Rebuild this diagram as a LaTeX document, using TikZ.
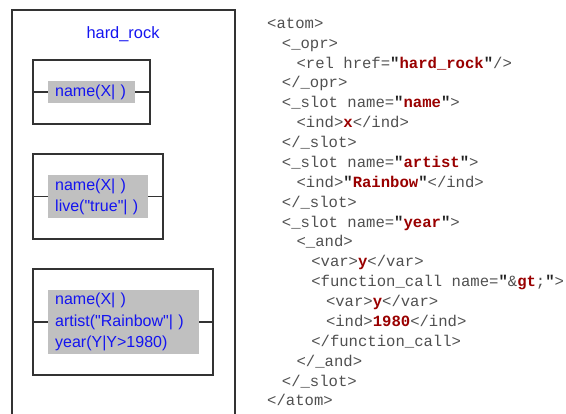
\documentclass[tikz,border=0pt]{standalone}
\usepackage{fontspec}
\setmainfont{Liberation Sans}
\newfontfamily\lblfont{Liberation Sans}
\newfontfamily\codefont{Liberation Mono}
\definecolor{boxc}{HTML}{333333}
\definecolor{grayf}{HTML}{C0C0C0}
\definecolor{lblue}{HTML}{1414F0}
\definecolor{codegray}{HTML}{505050}
\definecolor{qblack}{HTML}{222222}
\definecolor{vred}{HTML}{990000}
\newcommand\bq{\textbf{\color{qblack}"}}
\newcommand\rv[1]{\textbf{\color{vred}#1}}
\begin{document}
\begin{tikzpicture}[x=1pt,y=-1pt,
  frameline/.style={draw=boxc, line width=1.3pt},
  inbox/.style={draw=boxc, line width=1.3pt, inner sep=0pt},
  conn/.style={draw=boxc, line width=1.3pt},
  glabel/.style={fill=grayf, text=lblue, font=\lblfont\fontsize{16}{21.5}\selectfont, anchor=west, align=left, inner xsep=7pt, inner ysep=0pt},
  title/.style={text=lblue, font=\lblfont\fontsize{16.4}{19}\selectfont, anchor=base, inner sep=0pt},
  code/.style={anchor=base west, inner sep=0pt, font=\codefont\fontsize{15.6}{18}\selectfont, text=codegray}]
\useasboundingbox (0,0) rectangle (566,414);
% outer frame (open at bottom)
\coordinate (fbl) at (12,416);
\coordinate (ftl) at (12,10);
\coordinate (ftr) at (235,10);
\coordinate (fbr) at (235,416);
\draw[frameline] (fbl) -- (ftl) -- (ftr) -- (fbr);
\node[title] (hr) at (123,39) {hard\_rock};
% box 1
\node[inbox, minimum width=117pt, minimum height=64pt] (b1) at (91.5,92) {};
\node[glabel, text width=73pt] (g1) at (48,92) {\strut name(X| )};
\draw[conn] (b1.west) -- (g1.west);
\draw[conn] (g1.east) -- (b1.east);
% box 2
\node[inbox, minimum width=130pt, minimum height=85pt] (b2) at (98,196.5) {};
\node[glabel, text width=86pt] (g2) at (48,196.5) {\strut name(X| )\\\strut live("true"| )};
\draw[conn] (b2.west) -- (g2.west);
\draw[conn] (g2.east) -- (b2.east);
% box 3
\node[inbox, minimum width=180pt, minimum height=106pt] (b3) at (123,322) {};
\node[glabel, text width=137pt] (g3) at (48,322) {\strut name(X| )\\\strut artist("Rainbow"| )\\\strut year(Y|Y>1980)};
\draw[conn] (b3.west) -- (g3.west);
\draw[conn] (g3.east) -- (b3.east);
% code
\node[code] (c1)  at (267.0,28.3)  {<atom>};
\node[code] (c2)  at (281.7,48.2)  {<\_opr>};
\node[code] (c3)  at (296.4,68.1)  {<rel href=\bq\rv{hard\_rock}\bq/>};
\node[code] (c4)  at (281.7,87.9)  {</\_opr>};
\node[code] (c5)  at (281.7,107.8) {<\_slot name=\bq\rv{name}\bq>};
\node[code] (c6)  at (296.4,127.7) {<ind>\rv{x}</ind>};
\node[code] (c7)  at (281.7,147.6) {</\_slot>};
\node[code] (c8)  at (281.7,167.5) {<\_slot name=\bq\rv{artist}\bq>};
\node[code] (c9)  at (296.4,187.3) {<ind>\bq\rv{Rainbow}\bq</ind>};
\node[code] (c10) at (281.7,207.2) {</\_slot>};
\node[code] (c11) at (281.7,227.1) {<\_slot name=\bq\rv{year}\bq>};
\node[code] (c12) at (296.4,247.0) {<\_and>};
\node[code] (c13) at (311.1,266.9) {<var>\rv{y}</var>};
\node[code] (c14) at (311.1,286.7) {<function\_call name=\bq\&\rv{gt};\bq>};
\node[code] (c15) at (325.8,306.6) {<var>\rv{y}</var>};
\node[code] (c16) at (325.8,326.5) {<ind>\rv{1980}</ind>};
\node[code] (c17) at (311.1,346.4) {</function\_call>};
\node[code] (c18) at (296.4,366.3) {</\_and>};
\node[code] (c19) at (281.7,386.1) {</\_slot>};
\node[code] (c20) at (267.0,406.0) {</atom>};
\end{tikzpicture}
\end{document}
